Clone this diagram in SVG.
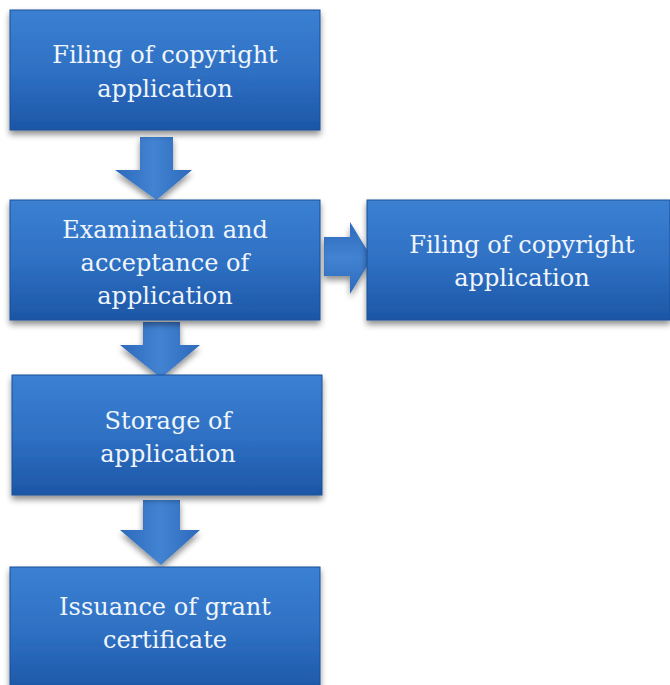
<svg xmlns="http://www.w3.org/2000/svg" width="670" height="685" viewBox="0 0 670 685">
<defs>
<linearGradient id="boxg" x1="0" y1="0" x2="0" y2="1">
<stop offset="0" stop-color="#3b80d2"/>
<stop offset="0.5" stop-color="#2f71c4"/>
<stop offset="1" stop-color="#1d56a6"/>
</linearGradient>
<linearGradient id="arrg" x1="0" y1="0" x2="1" y2="0">
<stop offset="0" stop-color="#2d69bb"/>
<stop offset="0.5" stop-color="#4283d2"/>
<stop offset="1" stop-color="#2d69bb"/>
</linearGradient>
<linearGradient id="arrgv" x1="0" y1="0" x2="0" y2="1">
<stop offset="0" stop-color="#2d69bb"/>
<stop offset="0.5" stop-color="#4283d2"/>
<stop offset="1" stop-color="#2d69bb"/>
</linearGradient>
<filter id="sh" x="-10%" y="-10%" width="120%" height="130%">
<feGaussianBlur in="SourceAlpha" stdDeviation="3"/>
<feOffset dx="0" dy="4" result="b"/>
<feComponentTransfer><feFuncA type="linear" slope="0.45"/></feComponentTransfer>
<feMerge><feMergeNode/><feMergeNode in="SourceGraphic"/></feMerge>
</filter>
</defs>
<style>
.box{fill:url(#boxg);stroke:#1a4f98;stroke-width:1;filter:url(#sh)}
.t{font-family:"DejaVu Serif","Liberation Serif",serif;font-size:24px;fill:#f0f5fc;text-anchor:middle}
.arr{fill:url(#arrg);filter:url(#sh)}
.arrh{fill:url(#arrgv);filter:url(#sh)}
</style>
<rect width="670" height="685" fill="#ffffff"/>
<g id="connectors">
<path class="arr" d="M140,137 H173 V170 H192 L156.5,200 L115,170 H140 Z"/>
<path class="arrh" d="M324,237 H350 V222 L372,258 L350,294 V276 H324 Z"/>
<path class="arr" d="M143,322 H180 V345 H200 L161,378 L120,345 H143 Z"/>
<path class="arr" d="M143,500 H180 V530 H200 L161,565 L120,530 H143 Z"/>
</g>
<g id="n1">
<rect class="box" x="10" y="10" width="310" height="120"/>
<text class="t" x="165" y="63">Filing of copyright</text>
<text class="t" x="165" y="97">application</text>
</g>
<g id="n2">
<rect class="box" x="10" y="200" width="310" height="120"/>
<text class="t" x="165" y="238">Examination and</text>
<text class="t" x="165" y="271">acceptance of</text>
<text class="t" x="165" y="304">application</text>
</g>
<g id="n3">
<rect class="box" x="367" y="200" width="303" height="120"/>
<text class="t" x="522" y="253">Filing of copyright</text>
<text class="t" x="522" y="286">application</text>
</g>
<g id="n4">
<rect class="box" x="12" y="375" width="310" height="120"/>
<text class="t" x="168" y="429">Storage of</text>
<text class="t" x="168" y="462">application</text>
</g>
<g id="n5">
<rect class="box" x="10" y="567" width="310" height="125"/>
<text class="t" x="165" y="615">Issuance of grant</text>
<text class="t" x="165" y="648">certificate</text>
</g>
</svg>
